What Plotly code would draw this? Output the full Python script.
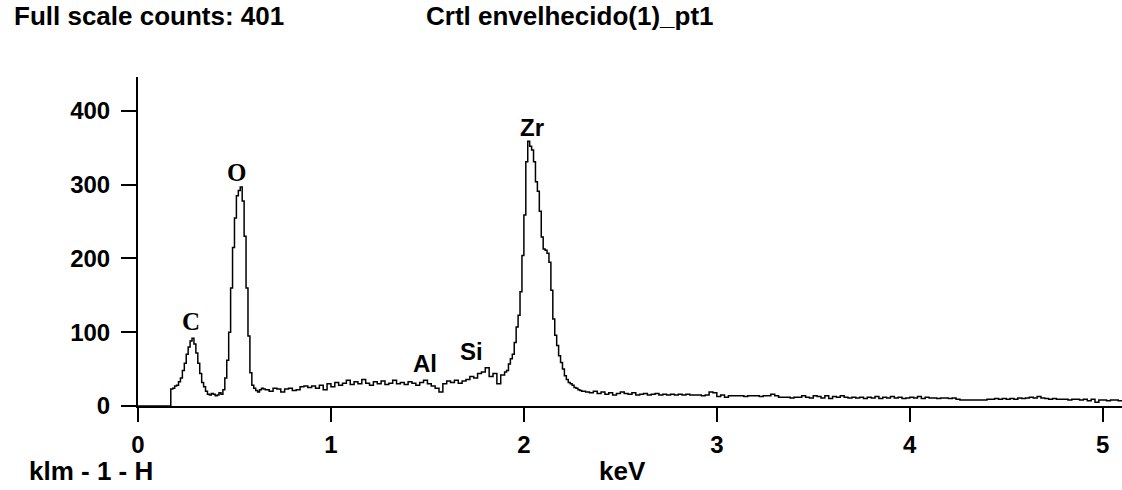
import plotly.graph_objects as go

# ---- data (counts) ----
# segment 1: 0.00 .. 0.65 keV, 0.01 keV channels
seg1_start, seg1_step = 0.00, 0.01
seg1_counts = [0, 0, 0, 0, 0, 0, 0, 0, 0, 0, 0, 0, 0, 0, 0, 0, 0,
               23, 24, 27, 28, 33, 38, 48, 58, 70, 80, 88, 92, 84, 72, 58, 44, 32, 26, 20,
               16, 15, 17, 16, 14, 15, 18, 16, 22, 38, 62, 100, 160, 215, 255, 285, 292, 297,
               278, 230, 160, 95, 45, 28, 24, 21, 19, 22, 24, 23]
# segment 2: 0.66 .. 1.88 keV, 0.02 keV steps
seg2_start, seg2_step = 0.66, 0.02
seg2_counts = [22, 20, 24, 23, 19, 23, 24, 21, 22, 26, 27, 25, 27, 24, 28, 22, 30, 26, 32, 28,
               31, 35, 29, 33, 30, 36, 31, 28, 33, 30, 34, 29, 31, 35, 30, 32, 29, 33, 31, 28,
               32, 35, 30, 27, 24, 19, 30, 34, 32, 35, 31, 34, 36, 40, 38, 44, 46, 52, 40, 44,
               30, 42]
# segment 3: 1.90 .. 2.30 keV, 0.01 keV channels (Zr L peak)
seg3_start, seg3_step = 1.90, 0.01
seg3_counts = [46, 48, 57, 64, 70, 86, 107, 123, 155, 204, 259, 331, 359, 352, 347, 331, 304,
               291, 264, 229, 213, 211, 207, 195, 157, 118, 96, 82, 68, 59, 50, 41, 36, 32, 30,
               28, 25, 24, 22, 21, 20]
# segment 4: 2.32 .. 5.10 keV, 0.02 keV steps
seg4_start, seg4_step = 2.32, 0.02
seg4_counts = [19, 18, 20, 17, 19, 16, 18, 15, 17, 19, 17, 16, 18, 15, 16, 17, 15, 16, 17, 15,
               16, 15, 16, 15, 16, 15, 16, 15, 15, 15, 14, 15, 19, 18, 13, 15, 12, 14, 14, 14,
               14, 13, 14, 14, 14, 13, 14, 14, 16, 14, 12, 12, 12, 11, 12, 12, 14, 12, 11, 14,
               13, 11, 14, 10, 13, 12, 14, 12, 11, 12, 11, 12, 10, 12, 11, 13, 10, 12, 11, 13,
               11, 12, 10, 11, 12, 11, 13, 10, 12, 11, 11, 10, 11, 11, 10, 11, 9, 8, 8, 8,
               8, 8, 8, 8, 9, 9, 10, 9, 10, 9, 10, 9, 11, 10, 11, 12, 11, 13, 11, 10,
               9, 10, 9, 9, 9, 8, 9, 9, 8, 9, 7, 9, 5, 8, 8, 7, 8, 8, 7, 8]

segments = [(seg1_start, seg1_step, seg1_counts), (seg2_start, seg2_step, seg2_counts),
            (seg3_start, seg3_step, seg3_counts), (seg4_start, seg4_step, seg4_counts)]

peak_labels = ["C", "O", "Al", "Si", "Zr"]
peak_label_energy = [0.275, 0.51, 1.487, 1.731, 2.041]
peak_label_counts = [115, 317, 57, 74, 377]
peak_label_font = ["Liberation Serif", "Liberation Serif", "Liberation Sans",
                   "Liberation Sans", "Liberation Sans"]

x_ticks = [0, 1, 2, 3, 4, 5]
y_ticks = [0, 100, 200, 300, 400]

header_left = "Full scale counts: 401"
header_mid = "Crtl envelhecido(1)_pt1"
footer_left = "klm - 1 - H"
x_title = "keV"

# ---- build ----
energy, counts = [], []
for start, step, vals in segments:
    for i, v in enumerate(vals):
        energy.append(round(start + i * step, 4))
        counts.append(v)

fig = go.Figure()
fig.add_trace(go.Scatter(x=energy, y=counts, mode="lines", line_shape="hv",
                         line=dict(color="black", width=1.5), hoverinfo="skip",
                         showlegend=False))

tickbold = dict(family="Liberation Sans, Arial, sans-serif", size=24, color="black", weight="bold")
textbold = dict(family="Liberation Sans, Arial, sans-serif", size=26, color="black", weight="bold")

for lab, ex, cy, fam in zip(peak_labels, peak_label_energy, peak_label_counts, peak_label_font):
    fig.add_annotation(x=ex, y=cy, xref="x", yref="y", text=lab, showarrow=False,
                       font=dict(family=fam, size=24 if fam.endswith("Sans") else 25,
                                 color="black", weight="bold"),
                       xanchor="center", yanchor="middle")

W, H = 1122, 490
L, R, T, B = 138, 0, 77, 84

def px_to_paper(px, py):
    return (px - L) / (W - L - R), 1 - (py - T) / (H - T - B)

for txt, px, py, anchor in [(header_left, 12, 16, "left"), (header_mid, 424, 16, "left"),
                            (footer_left, 27, 471, "left"), (x_title, 622, 471, "center")]:
    ax, ay = px_to_paper(px, py)
    fig.add_annotation(x=ax, y=ay, xref="paper", yref="paper", text=txt, showarrow=False,
                       font=textbold, xanchor=anchor, yanchor="middle")

fig.update_xaxes(range=[0, 5.1], tickvals=x_ticks, ticktext=[str(t) for t in x_ticks],
                 showline=True, linecolor="black", linewidth=2, ticks="outside",
                 ticklen=14, tickwidth=2, tickcolor="black", showgrid=False, zeroline=False,
                 tickfont=tickbold, ticklabelstandoff=2, fixedrange=True)
fig.update_yaxes(range=[0, 446], tickvals=y_ticks, ticktext=[str(t) for t in y_ticks],
                 showline=True, linecolor="black", linewidth=2, ticks="outside",
                 ticklen=15, tickwidth=2, tickcolor="black", showgrid=False, zeroline=False,
                 tickfont=tickbold, ticklabelstandoff=6, fixedrange=True)

fig.update_layout(width=W, height=H, margin=dict(l=L, r=R, t=T, b=B, pad=0),
                  plot_bgcolor="white", paper_bgcolor="white", showlegend=False)

fig.write_html("out.html", config={"displayModeBar": False})
